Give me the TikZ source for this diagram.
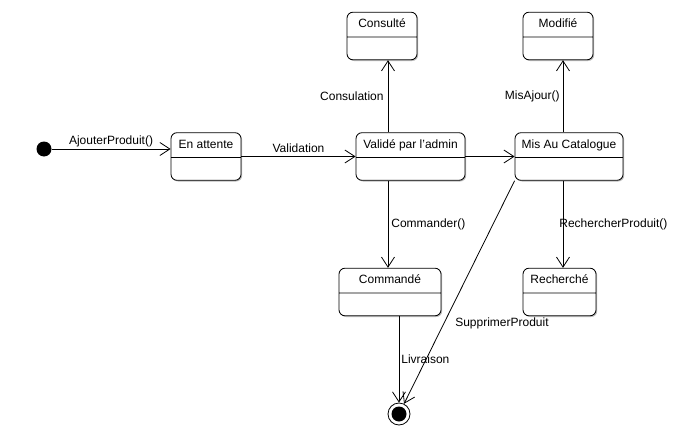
\documentclass[tikz,border=0pt]{standalone}
\usepackage{fontspec}
\setmainfont{Liberation Sans}
\usetikzlibrary{positioning,arrows.meta,shapes.multipart,shadows}
\tikzset{>={Straight Barb[length=10pt,width=13pt]}}

\begin{document}
\begin{tikzpicture}[
x=1pt, y=-1pt,
font=\fontsize{12}{14}\selectfont,
line width=0.8pt,
dot/.style = {circle, fill, minimum size=#1,
              inner sep=0pt, outer sep=0pt},
dot/.default = 15pt,
fin/.style = {circle, draw, minimum size=22pt, inner sep=0pt,
              path picture={\fill (path picture bounding box.center) circle (7.5pt);}},
etat/.style = {draw, fill=white, rectangle split, rectangle split parts=2,
               rounded corners=6pt,
               minimum width=#1,
               inner xsep=3pt, inner ysep=6pt,
               text height=9pt, text depth=3pt,
               rectangle split empty part height=10pt,
               rectangle split empty part depth=0pt,
               drop shadow={shadow xshift=1.2pt, shadow yshift=-1.2pt,
                            fill=black!45, opacity=0.6}},
lbl/.style = {inner sep=0pt},
]
        \useasboundingbox (0,0) rectangle (686,439);
        \node (init)      [dot] at (44,149) {};
        \node (attente)   [etat=70pt] at (206,156.5) {En attente \nodepart{two}};
        \node (valide)    [etat=109pt] at (410.5,156.5) {Validé par l'admin \nodepart{two}};
        \node (catalogue) [etat=108pt] at (569,156.5) {Mis Au Catalogue \nodepart{two}};
        \node (consulte)  [etat=70pt] at (382,36) {Consulté \nodepart{two}};
        \node (modifie)   [etat=70pt] at (558,36) {Modifié \nodepart{two}};
        \node (commande)  [etat=102pt] at (390,292) {Commandé \nodepart{two}};
        \node (recherche) [etat=73pt] at (559.5,292) {Recherché \nodepart{two}};
        \node (final)     [fin] at (399,414) {};
        % transitions
        \draw[->] (init) -- (attente.west |- init)
              node[lbl, midway, above=2pt] {AjouterProduit()};
        \draw[->] (attente) -- (valide)
              node[lbl, midway, above=3pt] {Validation};
        \draw[->] (valide) -- (catalogue);
        \draw[->] (valide.north -| 388,0) -- (consulte.south -| 388,0)
              node[lbl, midway, left=4pt] {Consulation};
        \draw[->] (catalogue.north -| 563,0) -- (modifie.south -| 563,0)
              node[lbl, midway, left=3pt] {MisAjour()};
        \draw[->] (valide.south -| 388,0) -- (commande.north -| 388,0)
              node[lbl, midway, right=3pt] {Commander()};
        \draw[->] (catalogue.south -| 563,0) -- (recherche.north -| 563,0)
              node[lbl, midway, right=-4pt] {RechercherProduit()};
        \draw[->] (commande.south -| final) -- (final)
              node[lbl, midway, right=2pt] {Livraison};
        \draw[->] (catalogue.south west) -- (final)
              node[lbl, pos=0.64, right=11pt] {SupprimerProduit};
\end{tikzpicture}
\end{document}
